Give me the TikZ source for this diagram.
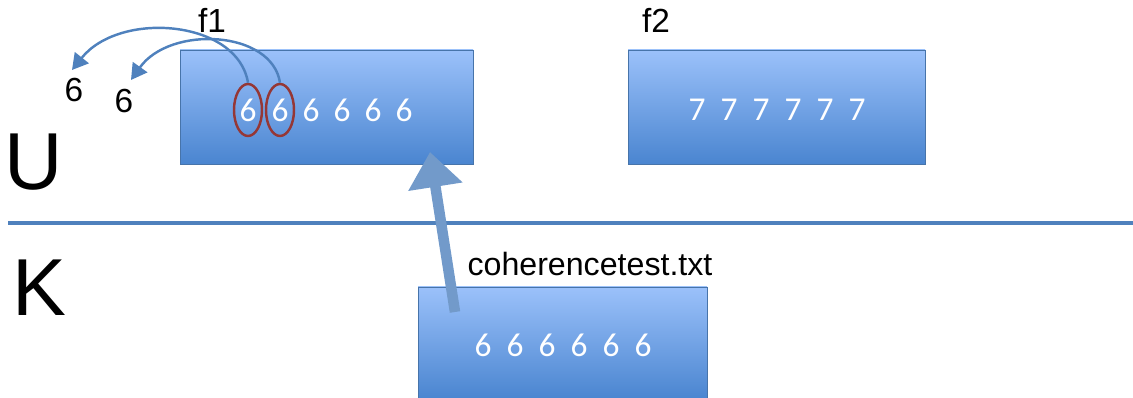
\documentclass[tikz,border=0pt]{standalone}
\usepackage{fontspec}
\setmainfont{Liberation Sans}
\newfontfamily\calfont{Carlito}
\usetikzlibrary{shapes.geometric,arrows.meta}
\definecolor{accblue}{HTML}{4F81BD}
\definecolor{topblue}{HTML}{9BC1FA}
\definecolor{botblue}{HTML}{4A85D0}
\definecolor{ringred}{HTML}{953735}
\tikzset{
  bluebox/.style={draw=accblue!90!black, line width=0.4pt, top color=topblue, bottom color=botblue, minimum width=#1, minimum height=114*0.02cm, inner sep=0pt},
  digits/.style={font=\calfont\fontsize{19}{21}\selectfont, text=white},
  lbl/.style={font=\fontsize{19}{22}\selectfont, inner sep=0pt},
  bigletter/.style={font=\fontsize{46}{50}\selectfont, inner sep=0pt},
  ring/.style={ellipse, draw=ringred, line width=1.4pt, minimum width=28*0.02cm, minimum height=52*0.02cm, inner sep=0pt},
  curvearrow/.style={draw=accblue, line width=1.4pt, -{Triangle[length=9pt,width=10pt]}},
  bigarrow/.style={draw=accblue!85!black, line width=6pt, color=accblue!80!white, -{Triangle[length=20pt,width=30pt]}}
}
\begin{document}
\begin{tikzpicture}[x=0.02cm,y=-0.02cm]
\useasboundingbox (0,0) rectangle (1133,398);
% separator
\draw[accblue, line width=2.2pt] (8,223) -- (1133,223);
% boxes
\node[bluebox=293*0.02cm] (f1) at (326.5,107) {};
\node[bluebox=297*0.02cm] (f2) at (776.5,107) {};
\node[bluebox=289*0.02cm, minimum height=112*0.02cm] (file) at (562.5,343) {};
% digits in boxes
\foreach \x [count=\i] in {248,280,311,342,373,404} {
  \node[digits] (d\i) at (\x,110) {6};
}
\node[digits] (f2d) at (777,110) {7\ \ 7\ \ 7\ \ 7\ \ 7\ \ 7};
\node[digits] (filed) at (563,345) {6\ \ 6\ \ 6\ \ 6\ \ 6\ \ 6};
% labels
\node[lbl] (f1l) at (212,20) {f1};
\node[lbl] (f2l) at (656,20) {f2};
\node[lbl, font=\fontsize{18.3}{21}\selectfont] (fname) at (590,264) {coherencetest.txt};
\node[bigletter] (U) at (34,162) {U};
\node[bigletter] (K) at (39,288) {K};
\node[lbl] (six1) at (74,90) {6};
\node[lbl] (six2) at (124,101) {6};
% rings
\node[ring] (r1) at (248,110) {};
\node[ring] (r2) at (280,110) {};
% curved arrows
\coordinate (t1) at (72,70);
\coordinate (t2) at (131,80);
\draw[curvearrow] (r1.north) .. controls (238,20) and (120,10) .. (t1);
\draw[curvearrow] (r2.north) .. controls (272,30) and (170,25) .. (t2);
% big arrow
\coordinate (bs) at (455,312);
\coordinate (be) at (430,152);
\draw[bigarrow] (bs) -- (be);
\end{tikzpicture}
\end{document}
